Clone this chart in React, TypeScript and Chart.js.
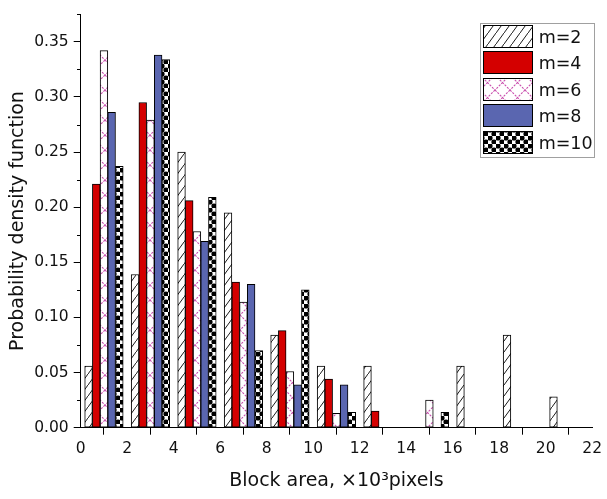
import React, { useEffect, useRef } from 'react';
import { Chart, registerables } from 'chart.js';

Chart.register(...registerables);

// ---- data ----
const binCenters = [1, 3, 5, 7, 9, 11, 13, 15, 17, 19, 21];
const seriesLabels = ['m=2', 'm=4', 'm=6', 'm=8', 'm=10'];
const m2 = [0.056, 0.139, 0.25, 0.195, 0.084, 0.056, 0.056, 0, 0.056, 0.084, 0.028];
const m4 = [0.221, 0.295, 0.206, 0.132, 0.088, 0.044, 0.015, 0, 0, 0, 0];
const m6 = [0.342, 0.279, 0.178, 0.114, 0.051, 0.013, 0, 0.025, 0, 0, 0];
const m8 = [0.286, 0.338, 0.169, 0.130, 0.039, 0.039, 0, 0, 0, 0, 0];
const m10 = [0.237, 0.334, 0.209, 0.070, 0.125, 0.014, 0, 0.014, 0, 0, 0];
const xMin = 0;
const xMax = 22;
const xStep = 2;
const yMin = 0;
const yMax = 0.375;
const yStep = 0.025;
const xTitle = 'Block area, \u00d710\u00b3pixels';
const yTitle = 'Probability density function';

const FONT = '"DejaVu Sans", "Liberation Sans", sans-serif';

function makeTile(w: number, h: number, draw: (c: CanvasRenderingContext2D) => void) {
  const cv = document.createElement('canvas');
  cv.width = w;
  cv.height = h;
  const c = cv.getContext('2d')!;
  draw(c);
  return cv;
}

function buildFills(ctx: CanvasRenderingContext2D) {
  const hatch = makeTile(8, 11, (c) => {
    c.fillStyle = '#fff';
    c.fillRect(0, 0, 8, 11);
    c.strokeStyle = '#000';
    c.lineWidth = 0.9;
    c.beginPath();
    c.moveTo(-1, 12.375);
    c.lineTo(9, -1.375);
    c.stroke();
  });
  const cross = makeTile(15, 15, (c) => {
    c.fillStyle = '#fff';
    c.fillRect(0, 0, 15, 15);
    c.strokeStyle = '#c94fae';
    c.lineWidth = 1.1;
    c.setLineDash([2.2, 1.2]);
    c.beginPath();
    c.moveTo(0, 0);
    c.lineTo(15, 15);
    c.moveTo(15, 0);
    c.lineTo(0, 15);
    c.stroke();
  });
  const checker = makeTile(8, 8, (c) => {
    c.fillStyle = '#fff';
    c.fillRect(0, 0, 8, 8);
    c.fillStyle = '#000';
    c.beginPath();
    c.arc(2, 2, 2.6, 0, Math.PI * 2);
    c.arc(6, 6, 2.6, 0, Math.PI * 2);
    c.fill();
    c.fillRect(0, 0, 4, 4);
    c.fillRect(4, 4, 4, 4);
  });
  return [
    ctx.createPattern(hatch, 'repeat')!,
    '#d40000',
    ctx.createPattern(cross, 'repeat')!,
    '#5a66b0',
    ctx.createPattern(checker, 'repeat')!,
  ];
}

const minorTicksPlugin = {
  id: 'minorTicks',
  afterDraw(chart: any) {
    const ys = chart.scales.y;
    const c = chart.ctx;
    const left = chart.chartArea.left;
    c.save();
    c.strokeStyle = '#000';
    c.lineWidth = 1;
    ys.ticks.forEach((t: any, i: number) => {
      if (i % 2 === 1) {
        const y = Math.round(ys.getPixelForTick(i)) + 0.5;
        c.beginPath();
        c.moveTo(Math.round(left) - 4, y);
        c.lineTo(Math.round(left), y);
        c.stroke();
      }
    });
    c.restore();
  },
};

const legendBoxPlugin = {
  id: 'legendBox',
  afterDraw(chart: any) {
    const c = chart.ctx;
    const ca = chart.chartArea;
    const fx = ca.right - 112;
    const fy = ca.bottom - 405;
    const fw = 113.5;
    const fh = 134;
    c.save();
    c.fillStyle = '#fff';
    c.fillRect(fx, fy, fw, fh);
    c.strokeStyle = '#a0a0a0';
    c.lineWidth = 1;
    c.strokeRect(Math.round(fx) + 0.5, Math.round(fy) + 0.5, Math.round(fw), Math.round(fh));
    chart.data.datasets.forEach((ds: any, i: number) => {
      const sx = Math.round(fx + 3);
      const sy = Math.round(fy + 2.3 + i * 26.4);
      const sw = 49;
      const sh = 22;
      c.fillStyle = ds.backgroundColor;
      c.fillRect(sx, sy, sw, sh);
      c.strokeStyle = '#000';
      c.strokeRect(sx + 0.5, sy + 0.5, sw, sh);
      c.fillStyle = '#111';
      c.font = `17.5px ${FONT}`;
      c.textBaseline = 'middle';
      c.textAlign = 'left';
      c.fillText(ds.label, fx + 58.5, sy + sh / 2 + 2.8);
    });
    c.restore();
  },
};

export default function App() {
  const ref = useRef<HTMLCanvasElement>(null);

  useEffect(() => {
    const canvas = ref.current!;
    const ctx = canvas.getContext('2d')!;
    const fills = buildFills(ctx);
    const series = [m2, m4, m6, m8, m10];
    const datasets = series.map((vals, i) => ({
      label: seriesLabels[i],
      data: vals.map((v, j) => ({ x: binCenters[j], y: v })),
      backgroundColor: fills[i] as any,
      borderColor: '#000',
      borderWidth: 1,
      borderSkipped: false as any,
      barThickness: 7.7,
    }));

    const chart = new Chart(canvas, {
      type: 'bar',
      data: { datasets } as any,
      options: {
        responsive: false,
        animation: false,
        maintainAspectRatio: false,
        layout: { padding: { top: 11.7, right: 9.3, left: 0, bottom: 0 } },
        plugins: {
          legend: { display: false },
          tooltip: { enabled: false },
        },
        scales: {
          x: {
            type: 'linear',
            min: xMin,
            max: xMax,
            offset: false,
            ticks: {
              stepSize: xStep,
              autoSkip: false,
              maxRotation: 0,
              padding: 5,
              color: '#111',
              font: { family: FONT, size: 15.5 },
              callback: (v: any) => String(v),
            },
            grid: {
              drawOnChartArea: false,
              drawTicks: true,
              tickLength: 7,
              tickColor: '#000',
              tickWidth: 1,
            },
            border: { display: true, color: '#000', width: 1 },
            title: {
              display: true,
              text: xTitle,
              color: '#111',
              font: { family: FONT, size: 19 },
              padding: { top: 0, bottom: 7 },
            },
            afterFit: (s: any) => {
              s.height = 71.3;
            },
          },
          y: {
            type: 'linear',
            min: yMin,
            max: yMax,
            ticks: {
              stepSize: yStep,
              autoSkip: false,
              padding: 5,
              color: '#111',
              font: { family: FONT, size: 15.5 },
              callback: (v: any, i: number) => (i % 2 === 0 ? Number(v).toFixed(2) : ''),
            },
            grid: {
              drawOnChartArea: false,
              drawTicks: true,
              tickLength: 7,
              tickColor: (c: any) => (c.index % 2 === 0 ? '#000' : 'rgba(0,0,0,0)'),
              tickWidth: 1,
            },
            border: { display: true, color: '#000', width: 1 },
            title: {
              display: true,
              text: yTitle,
              color: '#111',
              font: { family: FONT, size: 19 },
              padding: { top: 7, bottom: 0 },
            },
            afterFit: (s: any) => {
              s.width = 80.7;
            },
          },
        },
      } as any,
      plugins: [minorTicksPlugin, legendBoxPlugin],
    });
    return () => chart.destroy();
  }, []);

  return (
    <div style={{ position: 'absolute', left: 0, top: 0, width: 607, height: 499, background: '#fff' }}>
      <canvas ref={ref} width={607} height={499} style={{ display: 'block', width: 607, height: 499 }} />
    </div>
  );
}
